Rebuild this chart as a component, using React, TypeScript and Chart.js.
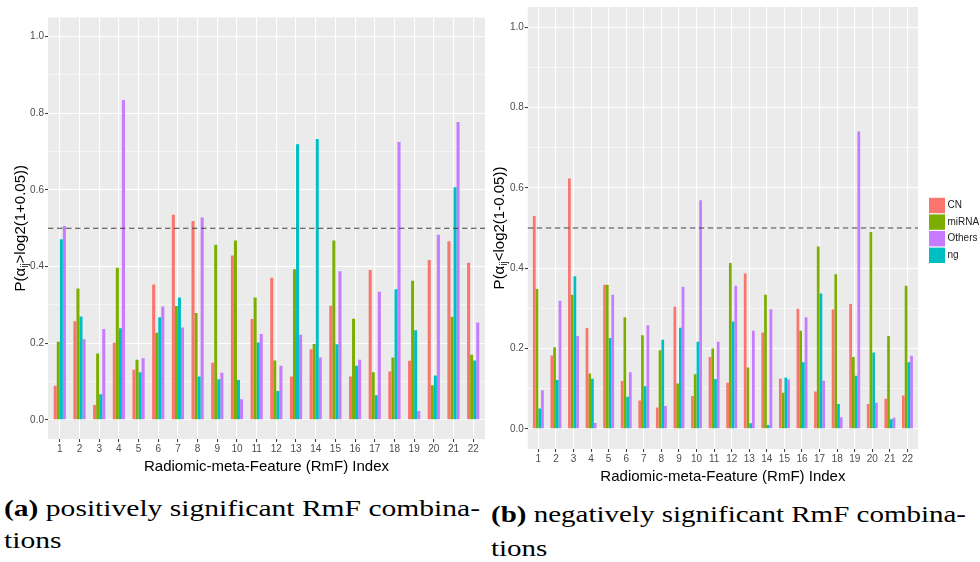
import React, { useEffect, useLayoutEffect, useRef } from 'react';
import { Chart, registerables } from 'chart.js';

Chart.register(...registerables);

// ---------- data ----------
const CATEGORIES = ['1','2','3','4','5','6','7','8','9','10','11','12','13','14','15','16','17','18','19','20','21','22'];
const SERIES_ORDER = ['CN', 'miRNA', 'ng', 'Others']; // bar order inside a group
const LEGEND_ORDER = ['CN', 'miRNA', 'Others', 'ng'];
const COLORS: Record<string, string> = { CN: '#F8766D', miRNA: '#7CAE00', ng: '#00BFC4', Others: '#C77CFF' };

// (a) positively significant
const CN_POS = [0.089, 0.257, 0.039, 0.201, 0.131, 0.353, 0.535, 0.519, 0.149, 0.429, 0.263, 0.371, 0.113, 0.184, 0.298, 0.113, 0.391, 0.126, 0.154, 0.417, 0.466, 0.41];
const MIRNA_POS = [0.204, 0.343, 0.173, 0.397, 0.157, 0.227, 0.297, 0.279, 0.457, 0.468, 0.319, 0.155, 0.393, 0.198, 0.468, 0.264, 0.124, 0.163, 0.363, 0.09, 0.269, 0.17];
const NG_POS = [0.471, 0.27, 0.067, 0.239, 0.124, 0.268, 0.319, 0.113, 0.106, 0.104, 0.202, 0.075, 0.719, 0.733, 0.197, 0.141, 0.064, 0.341, 0.234, 0.116, 0.607, 0.155];
const OTHERS_POS = [0.506, 0.21, 0.237, 0.835, 0.161, 0.296, 0.241, 0.528, 0.123, 0.054, 0.224, 0.141, 0.222, 0.163, 0.388, 0.157, 0.334, 0.725, 0.023, 0.483, 0.777, 0.254];

// (b) negatively significant
const CN_NEG = [0.53, 0.183, 0.623, 0.251, 0.359, 0.119, 0.071, 0.053, 0.304, 0.082, 0.179, 0.115, 0.387, 0.24, 0.125, 0.299, 0.093, 0.297, 0.311, 0.062, 0.075, 0.083];
const MIRNA_NEG = [0.348, 0.203, 0.334, 0.138, 0.359, 0.278, 0.233, 0.196, 0.113, 0.136, 0.2, 0.413, 0.153, 0.334, 0.09, 0.244, 0.454, 0.385, 0.179, 0.49, 0.231, 0.356];
const NG_NEG = [0.051, 0.122, 0.38, 0.125, 0.226, 0.08, 0.106, 0.222, 0.252, 0.217, 0.124, 0.267, 0.014, 0.01, 0.128, 0.166, 0.337, 0.062, 0.132, 0.19, 0.024, 0.166];
const OTHERS_NEG = [0.096, 0.319, 0.231, 0.015, 0.334, 0.141, 0.258, 0.057, 0.354, 0.569, 0.217, 0.356, 0.244, 0.298, 0.123, 0.278, 0.12, 0.029, 0.74, 0.065, 0.028, 0.182];

const Y_MAJOR = [0, 0.2, 0.4, 0.6, 0.8, 1.0];
const Y_MINOR = [0.1, 0.3, 0.5, 0.7, 0.9];
const Y_MIN = -0.05;
const Y_MAX = 1.05;
const X_MIN = 0.4;
const X_MAX = 22.6;
const THRESHOLD = 0.5;

const X_TITLE = 'Radiomic-meta-Feature (RmF) Index';
const Y_TITLE_POS = ['P(α', 'ij', '>log2(1+0.05))'];
const Y_TITLE_NEG = ['P(α', 'ij', '<log2(1-0.05))'];

const SANS = '"Liberation Sans", Arial, Helvetica, sans-serif';

const isMajor = (v: number) => Y_MAJOR.some((m) => Math.abs(m - v) < 1e-9);

type PanelProps = {
  values: Record<string, number[]>;
  yTitle: string[];
  left: number;
  width: number;
  height: number;
  padTop: number;
  padRight: number;
  yAxisWidth: number;
  yTitleX: number;
  legend: boolean;
};

function BarPanel(p: PanelProps) {
  const ref = useRef<HTMLCanvasElement>(null);
  useEffect(() => {
    const canvas = ref.current!;
    const datasets = SERIES_ORDER.map((name) => ({
      label: name,
      data: CATEGORIES.map((c, i) => ({ x: Number(c), y: p.values[name][i] })),
      backgroundColor: COLORS[name],
      borderWidth: 0,
      categoryPercentage: 0.62,
      barPercentage: 1,
    }));

    const plugin = {
      id: 'ggpanel',
      beforeDraw(chart: any) {
        const { ctx, chartArea: a } = chart;
        ctx.save();
        ctx.fillStyle = '#EBEBEB';
        ctx.fillRect(a.left, a.top, a.right - a.left, a.bottom - a.top);
        ctx.restore();
      },
      afterDatasetsDraw(chart: any) {
        const { ctx, chartArea: a } = chart;
        const y = chart.scales.y.getPixelForValue(THRESHOLD);
        ctx.save();
        ctx.strokeStyle = '#404040';
        ctx.lineWidth = 1.1;
        ctx.setLineDash([5.5, 3.5]);
        ctx.beginPath();
        ctx.moveTo(a.left, y);
        ctx.lineTo(a.right, y);
        ctx.stroke();
        ctx.restore();
      },
      afterDraw(chart: any) {
        const { ctx, chartArea: a } = chart;
        // y title with subscript
        const cy = (a.top + a.bottom) / 2;
        const big = `15px ${SANS}`;
        const small = `10px ${SANS}`;
        ctx.save();
        ctx.translate(p.yTitleX, cy);
        ctx.rotate(-Math.PI / 2);
        ctx.fillStyle = '#000000';
        ctx.textBaseline = 'middle';
        ctx.textAlign = 'left';
        ctx.font = big;
        const w1 = ctx.measureText(p.yTitle[0]).width;
        const w3 = ctx.measureText(p.yTitle[2]).width;
        ctx.font = small;
        const w2 = ctx.measureText(p.yTitle[1]).width;
        let x = -(w1 + w2 + w3) / 2;
        ctx.font = big;
        ctx.fillText(p.yTitle[0], x, 0);
        x += w1;
        ctx.font = small;
        ctx.fillText(p.yTitle[1], x, 4);
        x += w2;
        ctx.font = big;
        ctx.fillText(p.yTitle[2], x, 0);
        ctx.restore();

        if (p.legend) {
          const keyX = a.right + 11;
          const keyW = 16;
          const step = 16.6;
          const top = cy - (step * LEGEND_ORDER.length) / 2 + 3;
          ctx.save();
          ctx.font = `10px ${SANS}`;
          ctx.textBaseline = 'middle';
          ctx.textAlign = 'left';
          LEGEND_ORDER.forEach((name, i) => {
            const ky = top + i * step;
            ctx.fillStyle = COLORS[name];
            ctx.fillRect(keyX, ky, keyW, step - 1.2);
            ctx.fillStyle = '#1A1A1A';
            ctx.fillText(name, keyX + keyW + 2.5, ky + (step - 1.2) / 2);
          });
          ctx.restore();
        }
      },
    };

    const chart = new Chart(canvas, {
      type: 'bar',
      data: { datasets },
      options: {
        animation: false,
        responsive: false,
        devicePixelRatio: 1,
        layout: { padding: { top: p.padTop, right: p.padRight, left: 0, bottom: 0 } },
        plugins: { legend: { display: false }, tooltip: { enabled: false }, title: { display: false } },
        scales: {
          x: {
            type: 'linear',
            min: X_MIN,
            max: X_MAX,
            offset: false,
            afterBuildTicks: (s: any) => {
              s.ticks = CATEGORIES.map((c) => ({ value: Number(c) }));
            },
            afterFit: (s: any) => {
              s.height = 41;
            },
            ticks: {
              autoSkip: false,
              maxRotation: 0,
              minRotation: 0,
              padding: 1,
              color: '#4D4D4D',
              font: { size: 10, family: SANS },
              callback: (_v: any, i: number) => CATEGORIES[i],
            },
            grid: {
              offset: false,
              color: '#FFFFFF',
              lineWidth: 1.1,
              drawTicks: true,
              tickLength: 3,
              tickWidth: 1,
              tickColor: '#333333',
            },
            border: { display: false },
            title: {
              display: true,
              text: X_TITLE,
              color: '#000000',
              font: { size: 15, family: SANS },
              padding: { top: 0, bottom: 4 },
            },
          },
          y: {
            type: 'linear',
            min: Y_MIN,
            max: Y_MAX,
            afterBuildTicks: (s: any) => {
              s.ticks = [...Y_MAJOR, ...Y_MINOR].sort((a, b) => a - b).map((v) => ({ value: v }));
            },
            afterFit: (s: any) => {
              s.width = p.yAxisWidth;
            },
            ticks: {
              autoSkip: false,
              padding: 1,
              color: '#4D4D4D',
              font: { size: 10, family: SANS },
              callback: (v: any) => (isMajor(Number(v)) ? Number(v).toFixed(1) : ''),
            },
            grid: {
              color: '#FFFFFF',
              lineWidth: (ctx: any) => (ctx.tick && isMajor(ctx.tick.value) ? 1.1 : 0.55),
              drawTicks: true,
              tickLength: 3,
              tickWidth: 1,
              tickColor: (ctx: any) => (ctx.tick && isMajor(ctx.tick.value) ? '#333333' : 'rgba(0,0,0,0)'),
            },
            border: { display: false },
            title: { display: false },
          },
        },
      } as any,
      plugins: [plugin as any],
    });
    return () => chart.destroy();
  }, []);
  return (
    <canvas
      ref={ref}
      width={p.width}
      height={p.height}
      style={{ position: 'absolute', left: p.left, top: 0, width: p.width, height: p.height }}
    />
  );
}

type CaptionProps = { left: number; top1: number; top2: number; label: string; line1: string; line2: string; width: number };

function Caption(c: CaptionProps) {
  const l1 = useRef<HTMLDivElement>(null);
  const l2 = useRef<HTMLDivElement>(null);
  useLayoutEffect(() => {
    const el = l1.current!;
    const w = el.getBoundingClientRect().width;
    const s = w > 0 ? c.width / w : 1;
    el.style.transform = `scaleX(${s})`;
    l2.current!.style.transform = `scaleX(${s})`;
  }, []);
  const base: React.CSSProperties = {
    position: 'absolute',
    left: c.left,
    whiteSpace: 'nowrap',
    fontFamily: '"Liberation Serif", "Times New Roman", serif',
    fontSize: 24,
    lineHeight: '20px',
    color: '#000',
    transformOrigin: '0 0',
  };
  return (
    <>
      <div ref={l1} style={{ ...base, top: c.top1 }}>
        <b>{c.label}</b> {c.line1}
      </div>
      <div ref={l2} style={{ ...base, top: c.top2 }}>
        {c.line2}
      </div>
    </>
  );
}

export default function App() {
  const pos = { CN: CN_POS, miRNA: MIRNA_POS, ng: NG_POS, Others: OTHERS_POS };
  const neg = { CN: CN_NEG, miRNA: MIRNA_NEG, ng: NG_NEG, Others: OTHERS_NEG };
  return (
    <div style={{ position: 'absolute', left: 0, top: 0, width: 980, height: 562, background: '#FFFFFF', overflow: 'hidden' }}>
      <BarPanel values={pos} yTitle={Y_TITLE_POS} left={0} width={490} height={480} padTop={17.5} padRight={5} yAxisWidth={48} yTitleX={21} legend={false} />
      <BarPanel values={neg} yTitle={Y_TITLE_NEG} left={490} width={490} height={490} padTop={5.3} padRight={62} yAxisWidth={37.8} yTitleX={10} legend={true} />
      <Caption left={4} top1={498} top2={530} label="(a)" line1="positively significant RmF combina-" line2="tions" width={476} />
      <Caption left={491} top1={504} top2={538} label="(b)" line1="negatively significant RmF combina-" line2="tions" width={475} />
    </div>
  );
}
